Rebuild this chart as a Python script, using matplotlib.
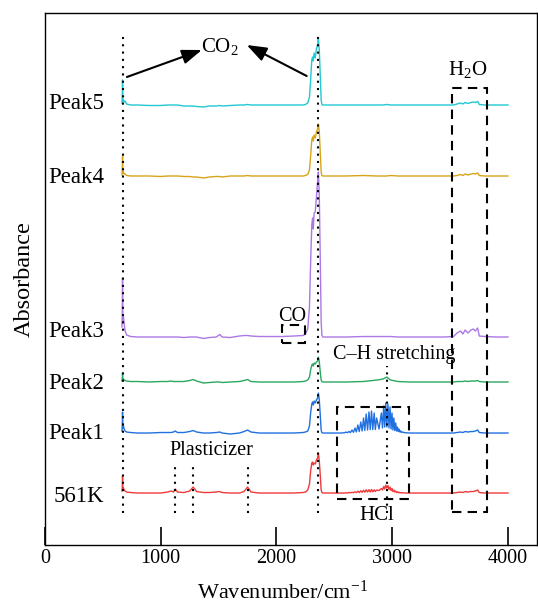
import numpy as np
import matplotlib.pyplot as plt
from matplotlib.patches import Rectangle

plt.rcParams['font.family'] = ['Liberation Serif', 'DejaVu Serif']
plt.rcParams['mathtext.fontset'] = 'custom'
plt.rcParams['mathtext.rm'] = 'Liberation Serif'
plt.rcParams['mathtext.it'] = 'Liberation Serif:italic'
plt.rcParams['mathtext.default'] = 'rm'

# wavenumber grid (cm-1) shared by all traces
wn = [665, 668, 670, 673, 678, 684, 692, 705, 740, 800, 900, 1000, 1060, 1090, 1110,
      1125, 1145, 1200, 1250, 1280, 1310, 1370, 1420, 1480, 1510, 1530, 1600, 1680,
      1720, 1750, 1780, 1850, 1950, 2050, 2150, 2230, 2250, 2270, 2285, 2295, 2305,
      2312, 2318, 2325, 2335, 2345, 2355, 2362, 2370, 2378, 2386, 2392, 2400, 2500,
      2600, 2750, 2870, 2920, 2953, 2985, 3050, 3150, 3300, 3450, 3530, 3560, 3590,
      3610, 3630, 3655, 3680, 3700, 3718, 3738, 3752, 3800, 3900, 4000]

# absorbance above each trace's own baseline (a.u. x100)
peak5 = [2, 8, 25, 4, 5, 3, 4, 1, 0, 0, -0.5, -0.5, 0, 0, 0,
         0, 0, -1, -1, -1, -1.5, -2, -1, -1, -0.5, -1, -0.5, 0,
         0, 0.5, 0, 0, 0, 0, 0, 0, 0.5, 2, 8, 25, 45,
         48, 44, 52, 47, 56, 60, 66, 55, 30, 5, 0.5, 0, 0,
         0, 0, 0, 0, 0.5, 0, 0, 0, 0, 0, 0, 1, 2,
         1, 2.5, 1.5, 2.5, 3, 2.5, 3.5, 0.5, 0, 0, 0]
peak4 = [1, 6, 20, 3, 4, 2, 2, 0.5, 0, 0, 0, -0.5, 0, 0, 0,
         0, 0, -0.5, -0.5, -1, -1, -2, -1, -0.5, -0.5, -1, 0, 0,
         0, 0.5, 0, 0, 0, 0, 0, 0, 0.5, 1.5, 6, 20, 36,
         39, 35, 41, 38, 44, 47, 52, 44, 24, 4, 0.5, 0, 0,
         0, 0.5, 0, 0, 0, 0.5, 0, 0, 0, 0, 0, 0.5, 1.5,
         0.5, 2, 1, 2, 2.5, 2, 3, 0.5, 0, 0, 0]
peak3 = [10, 25, 59, 15, 20, 14, 6, 2, 0.5, 0, 0, 0, 0, 0, 0,
         0, 0, -0.5, 0, 0, 0, -1.5, -0.5, 0, 2.5, 0, -0.5, 1,
         1.5, 1.5, 1, 0.5, 0.5, 0.5, 1, 1.5, 3, 8, 30, 75, 112,
         119, 108, 124, 125, 140, 155, 165, 140, 80, 15, 2, 0, 0,
         0, 0.5, 0.5, 0.5, 0.5, 0.5, 0, 0, 0, 0, 0.5, 4, 6,
         3, 7, 4, 7, 8, 6, 9, 1, 0.5, 0, 0]
peak2 = [1, 4, 9, 3, 3, 2, 1.5, 1, 0.5, 0.5, 0, 0.5, 0.5, 1, 0.5,
         0.5, 0.5, 0.5, 1.5, 2.5, 1, -1, -0.5, 0, 0, -0.5, 0, 0.5,
         1.5, 2.5, 0.5, 0, 0, 0, 0, 0.5, 1, 2, 5, 12, 17,
         18, 16, 19, 18, 20, 21, 25, 20, 10, 2, 0.5, 0, 0,
         0, 0.5, 2, 3, 5, 2, 0.5, 0, 0, 0, 0, 0.5, 0.5,
         0.5, 1, 0.5, 1, 1, 1, 1.5, 0.5, 0, 0, 0]
peak1 = [2, 8, 21, 5, 7, 4, 2, 1, 0.5, 0, 0, 0.5, 0.5, 0.5, 1,
         2, 0.5, 0.5, 1.5, 2.5, 1, 0, 0, 0.5, 1, 0, -1, 0,
         1.5, 3, 1, 0, 0, 0, 0, 0.5, 1, 2, 7, 20, 29,
         31, 28, 32, 30, 33, 35, 40, 33, 18, 3, 0.5, 0, 0,
         0, 0, 0, 0, 0, 0, 0, 0, 0, 0, 0, 0.5, 1,
         0.5, 1.5, 1, 1.5, 1.5, 2, 3, 0.5, 0, 0, 0]
k561 = [2, 6, 17, 4, 5, 3, 2, 1, 0.5, 0, 0, 0, 1, 2, 1,
        4, 1, 0.5, 2, 6, 1.5, 0.5, 0.5, 1, 1.5, 0.5, 0, 0,
        1.5, 6, 1, 0, 0, 0, 0, 0.5, 1, 3, 9, 22, 30,
        31, 28, 30, 29, 33, 35, 40, 32, 18, 3, 0.5, 0, 0,
        0, 0, 0, 0, 0, 0, 0, 0, 0, 0, 0, 0.5, 1,
        0.5, 1.5, 1, 1.5, 1.5, 2, 3, 0.5, 0, 0, 0]

# HCl rotational lines (line tops and valleys between them)
hcl_wn = [2560, 2590, 2599, 2612, 2626, 2639, 2652, 2665, 2678, 2690, 2703, 2715,
          2728, 2740, 2752, 2763, 2775, 2787, 2799, 2810, 2821, 2832, 2844, 2854,
          2865, 2886, 2906, 2916, 2926, 2935, 2944, 2953, 2963, 2972, 2981, 2990,
          2998, 3006, 3014, 3022, 3030, 3037, 3045, 3052, 3059, 3066, 3073, 3080,
          3086, 3110, 3150]
hcl_peak1 = [0, 0.3, 1, 0.3, 1.5, 0.5, 3, 0.7, 5, 1, 8, 1.5,
             11, 2, 15, 2.5, 19, 3, 21, 3.5, 22, 3.5, 20, 3.5,
             15, 4, 20, 5, 27, 6, 30, 6, 29, 5, 26, 4,
             20, 3, 15, 2.5, 10, 2, 6, 1.5, 4, 1, 2, 0.5,
             1, 0.3, 0]
hcl_k561 = [0, 0, 0.3, 0, 0.5, 0.2, 0.8, 0.3, 1.2, 0.4, 1.8, 0.5,
            2.3, 0.7, 2.8, 0.8, 3.2, 1, 3.4, 1, 3.5, 1.2, 3.2, 1.5,
            3, 2.5, 4.5, 3, 6.5, 4, 8, 5, 7.5, 3.5, 6, 2.5,
            4.5, 1.5, 3, 1, 2, 0.5, 1.2, 0.3, 0.8, 0.2, 0.5, 0,
            0.3, 0, 0]

labels = ['561K', 'Peak1', 'Peak2', 'Peak3', 'Peak4', 'Peak5']
offsets = [52, 112, 163, 208, 369, 440]
label_y = [43, 106, 156, 208, 362, 436]
colors = ['#f03a3a', '#2070e0', '#2aa860', '#ac78e6', '#d8a418', '#22c8d2']
traces = [k561, peak1, peak2, peak3, peak4, peak5]
hcl = {0: hcl_k561, 1: hcl_peak1}

fig = plt.figure(figsize=(5.38, 6.07), dpi=100)
ax = fig.add_axes([0.0836, 0.1021, 0.9144, 0.8765])

for i, (lab, off, ly, col, tr) in enumerate(zip(labels, offsets, label_y, colors, traces)):
    x = np.array(wn, dtype=float)
    y = np.array(tr, dtype=float)
    if i in hcl:
        keep_lo = x < 2560
        keep_hi = x > 3150
        x = np.concatenate([x[keep_lo], hcl_wn, x[keep_hi]])
        y = np.concatenate([y[keep_lo], hcl[i], y[keep_hi]])
    ax.plot(x, y + off, color=col, lw=1.0, zorder=2)
    ax.text(510, ly, lab, fontsize=16.5, ha='right', va='baseline')

# dotted guide lines
dot = dict(color='black', lw=1.5, linestyle=(0, (1, 2.5)), zorder=3)
ax.plot([670, 670], [32, 512], **dot)
ax.plot([2360, 2360], [32, 510], **dot)
for xv in [1125, 1280, 1750]:
    ax.plot([xv, xv], [32, 83], **dot)
ax.plot([2953, 2953], [32, 179], **dot)

# dashed boxes
box = dict(fill=False, edgecolor='black', lw=1.5, linestyle=(0, (4.5, 3)), zorder=3)
ax.add_patch(Rectangle((2522, 46), 621, 92, **box))
ax.add_patch(Rectangle((3515, 33), 302, 424, **box))
ax.add_patch(Rectangle((2044, 202), 201, 18, **box))

# annotations
fs = 14.5
ax.text(1510, 493, 'CO$_2$', fontsize=15, ha='center', va='baseline')
arw = dict(arrowstyle='-|>,head_length=0.6,head_width=0.22', color='black',
           lw=1.5, mutation_scale=20, shrinkA=0, shrinkB=0)
ax.annotate('', xy=(1355, 495), xytext=(708, 468), arrowprops=arw)
ax.annotate('', xy=(1743, 500), xytext=(2261, 469), arrowprops=arw)
ax.text(3650, 470, 'H$_2$O', fontsize=15, ha='center', va='baseline')
ax.text(2140, 224, 'CO', fontsize=fs, ha='center', va='baseline')
ax.text(3020, 186, 'C\u2013H stretching', fontsize=fs, ha='center', va='baseline')
ax.text(2865, 25, 'HCl', fontsize=15, ha='center', va='baseline')
ax.text(1441, 90, 'Plasticizer', fontsize=fs, ha='center', va='baseline')

ax.set_xlim(0, 4250)
ax.set_ylim(0, 532)
ax.set_xticks([0, 1000, 2000, 3000, 4000])
ax.tick_params(axis='x', direction='in', length=13, width=1.2, labelsize=14.5, pad=3)
ax.tick_params(axis='y', left=False, labelleft=False)
for s in ax.spines.values():
    s.set_linewidth(1.0)
ax.set_xlabel('Wavenumber/cm$^{-1}$', fontsize=16)
ax.xaxis.set_label_coords(0.482, -0.102)
ax.xaxis.label.set_va('baseline')
ax.set_ylabel('Absorbance', fontsize=17.5)
ax.yaxis.set_label_coords(-0.02, 0.5)

fig.savefig('out.png', dpi=100)
